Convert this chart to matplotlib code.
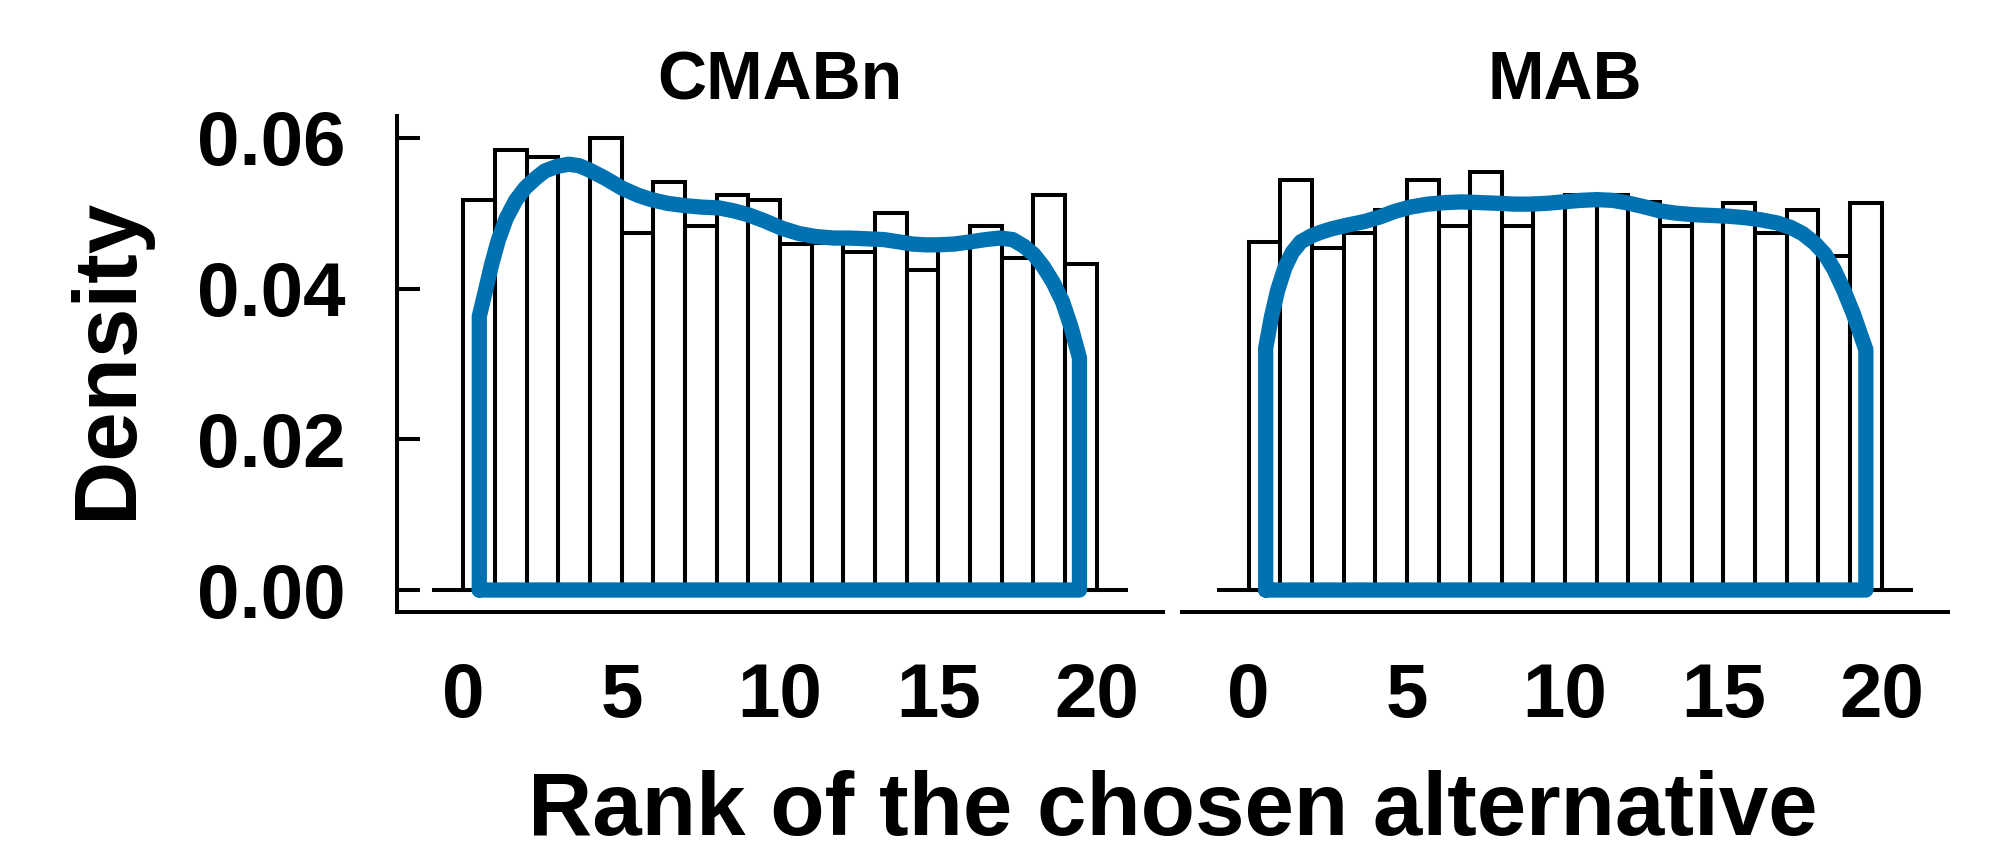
import matplotlib.pyplot as plt
import numpy as np

plt.rcParams['font.family'] = ['Liberation Sans', 'DejaVu Sans']
plt.rcParams['font.weight'] = 'bold'

# histogram: 20 bins of width 1 over the rank of the chosen alternative
bin_edges = np.arange(0, 21)
panel_names = ['CMABn', 'MAB']

cmabn_density = [0.0518, 0.0584, 0.0575, 0.0565, 0.0600, 0.0474, 0.0542, 0.0483, 0.0524, 0.0518,
                 0.0459, 0.0460, 0.0449, 0.0500, 0.0424, 0.0456, 0.0483, 0.0441, 0.0524, 0.0433]
mab_density = [0.0462, 0.0544, 0.0454, 0.0474, 0.0504, 0.0544, 0.0483, 0.0555, 0.0483, 0.0513,
               0.0524, 0.0524, 0.0515, 0.0483, 0.0500, 0.0513, 0.0474, 0.0504, 0.0443, 0.0513]

# kernel density curves
cmabn_kde_x = [0.50, 0.70, 0.89, 1.10, 1.35, 1.65, 1.96, 2.30, 2.57, 2.95, 3.33, 3.65, 3.94, 4.45,
               5.02, 5.50, 5.93, 6.45, 7.00, 7.55, 8.07, 8.55, 8.99, 9.50, 10.06, 10.60, 11.13,
               11.70, 12.20, 12.75, 13.27, 13.75, 14.19, 14.60, 14.95, 15.50, 16.02, 16.50, 16.94,
               17.35, 17.71, 18.02, 18.32, 18.63, 18.93, 19.20, 19.46]
cmabn_kde_y = [0.0363, 0.0398, 0.0432, 0.0464, 0.0493, 0.0517, 0.0534, 0.0547, 0.0556, 0.0562,
               0.0565, 0.0563, 0.0558, 0.0547, 0.0533, 0.0524, 0.0518, 0.0513, 0.0510, 0.0508,
               0.0507, 0.0503, 0.0498, 0.0490, 0.0480, 0.0473, 0.0469, 0.0467, 0.0467, 0.0466,
               0.0465, 0.0462, 0.0459, 0.0458, 0.0458, 0.0459, 0.0462, 0.0465, 0.0467, 0.0465,
               0.0456, 0.0445, 0.0429, 0.0408, 0.0382, 0.0348, 0.0308]
mab_kde_x = [0.54, 0.72, 0.92, 1.15, 1.38, 1.65, 1.99, 2.30, 2.60, 3.10, 3.67, 4.15, 4.59, 5.10,
             5.66, 6.20, 6.73, 7.35, 7.95, 8.40, 8.87, 9.40, 9.94, 10.50, 11.01, 11.50, 11.93,
             12.45, 13.00, 13.50, 14.07, 14.60, 15.14, 15.70, 16.21, 16.70, 17.13, 17.50, 17.89,
             18.20, 18.50, 18.80, 19.11, 19.30, 19.50]
mab_kde_y = [0.0321, 0.0362, 0.0398, 0.0428, 0.0448, 0.0462, 0.0470, 0.0475, 0.0479, 0.0484,
             0.0489, 0.0495, 0.0502, 0.0508, 0.0512, 0.0514, 0.0515, 0.0514, 0.0513, 0.0512,
             0.0512, 0.0513, 0.0515, 0.0517, 0.0518, 0.0517, 0.0514, 0.0509, 0.0503, 0.0500,
             0.0498, 0.0497, 0.0496, 0.0494, 0.0491, 0.0487, 0.0481, 0.0473, 0.0460, 0.0446,
             0.0425, 0.0398, 0.0366, 0.0343, 0.0319]

densities = [cmabn_density, mab_density]
kde_xs = [cmabn_kde_x, mab_kde_x]
kde_ys = [cmabn_kde_y, mab_kde_y]

fig = plt.figure(figsize=(20.08, 8.55), dpi=100)
ax1 = fig.add_axes([0.1977, 0.2842, 0.3815, 0.580])
ax2 = fig.add_axes([0.5887, 0.2842, 0.3815, 0.580])
axes = [ax1, ax2]
blue = '#0072B2'

for i, ax in enumerate(axes):
    # bars of the histogram
    ax.bar(bin_edges[:-1], densities[i], width=1, align='edge', fill=False,
           edgecolor='black', linewidth=2.9, zorder=2)
    ax.hlines(0, -1, 21, color='black', linewidth=2.9, zorder=2)

    # density curve closed down to zero
    kx = kde_xs[i]
    ky = kde_ys[i]
    px = [kx[0]] + kx + [kx[-1], kx[0]]
    py = [0] + ky + [0, 0]
    ax.plot(px, py, color=blue, linewidth=11, solid_joinstyle='round',
            solid_capstyle='round', zorder=3)

    ax.set_xlim(-2.1, 22.1)
    ax.set_ylim(-0.00292, 0.06288)
    ax.set_xticks([0, 5, 10, 15, 20])
    ax.tick_params(axis='x', length=0, pad=36, labelsize=55)
    ax.set_title(panel_names[i], fontsize=49, fontweight='bold', pad=12)
    for s in ['top', 'right']:
        ax.spines[s].set_visible(False)
    ax.spines['bottom'].set_linewidth(2.9)
    ax.spines['left'].set_linewidth(2.9)
    for lab in ax.get_xticklabels() + ax.get_yticklabels():
        lab.set_fontweight('bold')

ax1.set_yticks([0.00, 0.02, 0.04, 0.06])
ax1.set_yticklabels(['0.00', '0.02', '0.04', '0.06'], fontweight='bold')
ax1.tick_params(axis='y', direction='in', length=16.5, width=2.9, pad=37, labelsize=55)

ax2.spines['left'].set_visible(False)
ax2.set_yticks([])

fig.text(0.0536, 0.5807, 'Density', rotation=90, ha='center', va='center',
         fontsize=64, fontweight='bold')
fig.text(0.584, 0.023, 'Rank of the chosen alternative', ha='center', va='baseline',
         fontsize=64, fontweight='bold')

plt.savefig('out.png', dpi=100)
